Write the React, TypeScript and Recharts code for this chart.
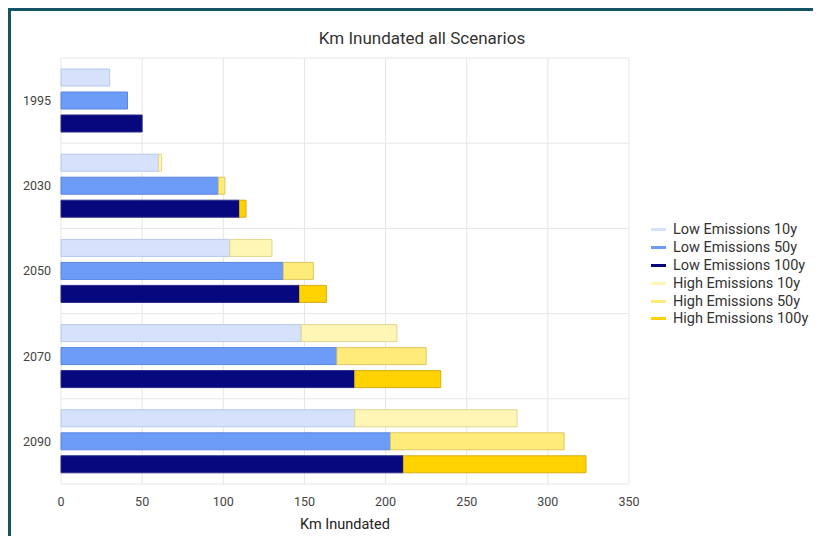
import React from 'react';
import { BarChart, Bar, XAxis, YAxis, CartesianGrid, Label } from 'recharts';

// Years shown on the category axis
const years = ['1995', '2030', '2050', '2070', '2090'];

// Km inundated under the low emissions scenario, by flood return period
const low10y = [30, 60, 104, 148, 181];
const low50y = [41, 97, 137, 170, 203];
const low100y = [50, 110, 147, 181, 211];

// Km inundated under the high emissions scenario, by flood return period
const high10y = [30, 62, 130, 207, 281];
const high50y = [41, 101, 155.5, 225, 310];
const high100y = [50, 114, 163.5, 234, 323.5];

const xTicks = [0, 50, 100, 150, 200, 250, 300, 350];

const series = [
  { key: 'low10', name: 'Low Emissions 10y', stack: '10y', fill: '#d6e2fb', stroke: '#b9c8ea' },
  { key: 'low50', name: 'Low Emissions 50y', stack: '50y', fill: '#6d9bf8', stroke: '#5a86e2' },
  { key: 'low100', name: 'Low Emissions 100y', stack: '100y', fill: '#07077e', stroke: '#2a2a8a' },
  { key: 'high10', name: 'High Emissions 10y', stack: '10y', fill: '#fff6b6', stroke: '#e2d58e' },
  { key: 'high50', name: 'High Emissions 50y', stack: '50y', fill: '#ffeb7a', stroke: '#dcc760' },
  { key: 'high100', name: 'High Emissions 100y', stack: '100y', fill: '#ffd200', stroke: '#d8ad10' },
];

// High emissions bars are stacked on top of the low emissions bars,
// so each high segment holds the extra km beyond the low scenario.
const data = years.map((year, i) => ({
  year,
  low10: low10y[i],
  low50: low50y[i],
  low100: low100y[i],
  high10: high10y[i] - low10y[i],
  high50: high50y[i] - low50y[i],
  high100: high100y[i] - low100y[i],
}));

const FONT = 'Roboto, "Noto Sans", sans-serif';

// Horizontal grid lines sit on the boundaries between year groups
const bandLines = ({ offset }: any) => {
  const out: number[] = [];
  for (let i = 0; i <= years.length; i++) {
    out.push(offset.top + (offset.height * i) / years.length);
  }
  return out;
};

export default function App() {
  return (
    <div
      style={{
        position: 'relative',
        width: 813,
        height: 528,
        boxSizing: 'border-box',
        borderTop: '3px solid #135565',
        borderLeft: '3px solid #135565',
        overflow: 'hidden',
        background: '#fff',
        fontFamily: FONT,
      }}
    >
      <div
        style={{
          position: 'absolute',
          left: 0,
          top: 17,
          width: 822,
          textAlign: 'center',
          fontSize: 17,
          lineHeight: '20px',
          color: '#333',
        }}
      >
        Km Inundated all Scenarios
      </div>

      <div style={{ position: 'absolute', left: 0, top: 0 }}>
        <BarChart
          width={810}
          height={525}
          data={data}
          layout="vertical"
          margin={{ top: 47, right: 192, bottom: 0, left: 0 }}
          barSize={17}
          barGap={6}
        >
          <CartesianGrid
            stroke="#e6e6e6"
            horizontalCoordinatesGenerator={bandLines}
          />
          <XAxis
            type="number"
            domain={[0, 350]}
            ticks={xTicks}
            axisLine={false}
            tickLine={false}
            tickMargin={7}
            height={52}
            tick={{ fill: '#444', fontSize: 12.5, fontFamily: FONT }}
          >
            <Label
              value="Km Inundated"
              position="insideBottom"
              offset={7}
              style={{ fill: '#222', fontSize: 14.5, fontFamily: FONT }}
            />
          </XAxis>
          <YAxis
            type="category"
            dataKey="year"
            width={50}
            axisLine={false}
            tickLine={false}
            tickMargin={4}
            tick={{ fill: '#444', fontSize: 12.5, fontFamily: FONT }}
          />
          {series.map((s) => (
            <Bar
              key={s.key}
              dataKey={s.key}
              name={s.name}
              stackId={s.stack}
              fill={s.fill}
              stroke={s.stroke}
              strokeWidth={1}
              isAnimationActive={false}
            />
          ))}
        </BarChart>
      </div>

      <div
        style={{
          position: 'absolute',
          left: 640,
          top: 210,
          fontSize: 14.5,
          color: '#333',
        }}
      >
        {series.map((s) => (
          <div
            key={s.key}
            style={{ display: 'flex', alignItems: 'center', height: 17.8, whiteSpace: 'nowrap' }}
          >
            <span
              style={{
                display: 'inline-block',
                width: 15,
                height: 3,
                background: s.fill,
                marginRight: 7,
              }}
            />
            {s.name}
          </div>
        ))}
      </div>
    </div>
  );
}
